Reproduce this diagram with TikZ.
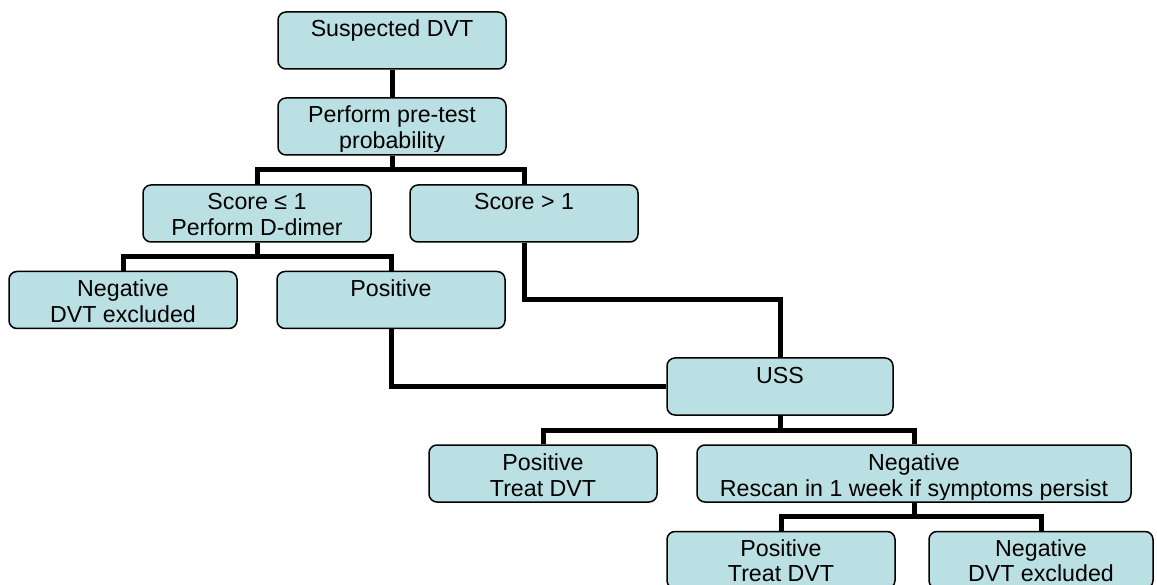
\documentclass[tikz,border=0pt]{standalone}
\usepackage{fontspec}
\setmainfont{Liberation Sans}
\definecolor{boxfill}{HTML}{BBE0E3}
\begin{document}
\begin{tikzpicture}[x=1pt,y=-1pt,
  box/.style={draw=black, line width=1.5pt, fill=boxfill, rounded corners=8pt, inner sep=0pt, minimum height=57pt},
  txt/.style={anchor=base, inner sep=0pt, font=\fontsize{23.2}{27}\selectfont},
  link/.style={line width=5pt, line join=miter}]
\useasboundingbox (0,0) rectangle (1157,585);

% boxes
\node[box, minimum width=228pt] (susp) at (392,40.5) {};
\node[box, minimum width=228pt] (perf) at (392,126.5) {};
\node[box, minimum width=228pt] (s1) at (257,213.5) {};
\node[box, minimum width=228pt] (s2) at (524,213.5) {};
\node[box, minimum width=228pt] (neg) at (123,300) {};
\node[box, minimum width=228pt] (pos) at (391,300) {};
\node[box, minimum width=226pt] (uss) at (780,386.5) {};
\node[box, minimum width=228pt] (pt) at (543,473.5) {};
\node[box, minimum width=434pt] (nr) at (914,473.5) {};
\node[box, minimum width=228pt] (pt2) at (781,560) {};
\node[box, minimum width=224pt] (ne2) at (1041,560) {};

% junctions
\coordinate (b1) at (392,170);
\coordinate (b2) at (257,257);
\coordinate (m1) at (524,300);
\coordinate (b5) at (780,430);
\coordinate (b6) at (914,516);

% connectors
\draw[link] (susp.south) -- (perf.north);
\draw[link] (perf.south) -- (b1);
\draw[link] (s1.north) |- (b1) -| (s2.north);
\draw[link] (s1.south) -- (b2);
\draw[link] (neg.north) |- (b2) -| (pos.north);
\draw[link] (s2.south) -- (m1) -| (uss.north);
\draw[link] (pos.south) |- (uss.west);
\draw[link] (uss.south) -- (b5);
\draw[link] (pt.north) |- (b5) -| (nr.north);
\draw[link] (nr.south) -- (b6);
\draw[link] (pt2.north) |- (b6) -| (ne2.north);

% texts
\node[txt] (t1) at (392,37) {Suspected DVT};
\begin{scope}
\clip (278,98) rectangle (506,152);
\node[txt] (t2a) at (392,123) {Perform pre-test};
\node[txt] (t2b) at (392,149) {probability};
\end{scope}
\node[txt] (t3a) at (257,210) {Score ≤ 1};
\node[txt] (t3b) at (257,236) {Perform D-dimer};
\node[txt] (t4) at (524,210) {Score > 1};
\node[txt] (t5a) at (123,297) {Negative};
\node[txt] (t5b) at (123,323) {DVT excluded};
\node[txt] (t6) at (391,297) {Positive};
\node[txt] (t7) at (780,383) {USS};
\node[txt] (t8a) at (543,470) {Positive};
\node[txt] (t8b) at (543,496) {Treat DVT};
\begin{scope}
\clip (697,445) rectangle (1131,499);
\node[txt] (t9a) at (914,470) {Negative};
\node[txt] (t9b) at (914,496) {Rescan in 1 week if symptoms persist};
\end{scope}
\node[txt] (t10a) at (781,556) {Positive};
\node[txt] (t10b) at (781,581.5) {Treat DVT};
\node[txt] (t11a) at (1041,556) {Negative};
\node[txt] (t11b) at (1041,581.5) {DVT excluded};
\end{tikzpicture}
\end{document}
